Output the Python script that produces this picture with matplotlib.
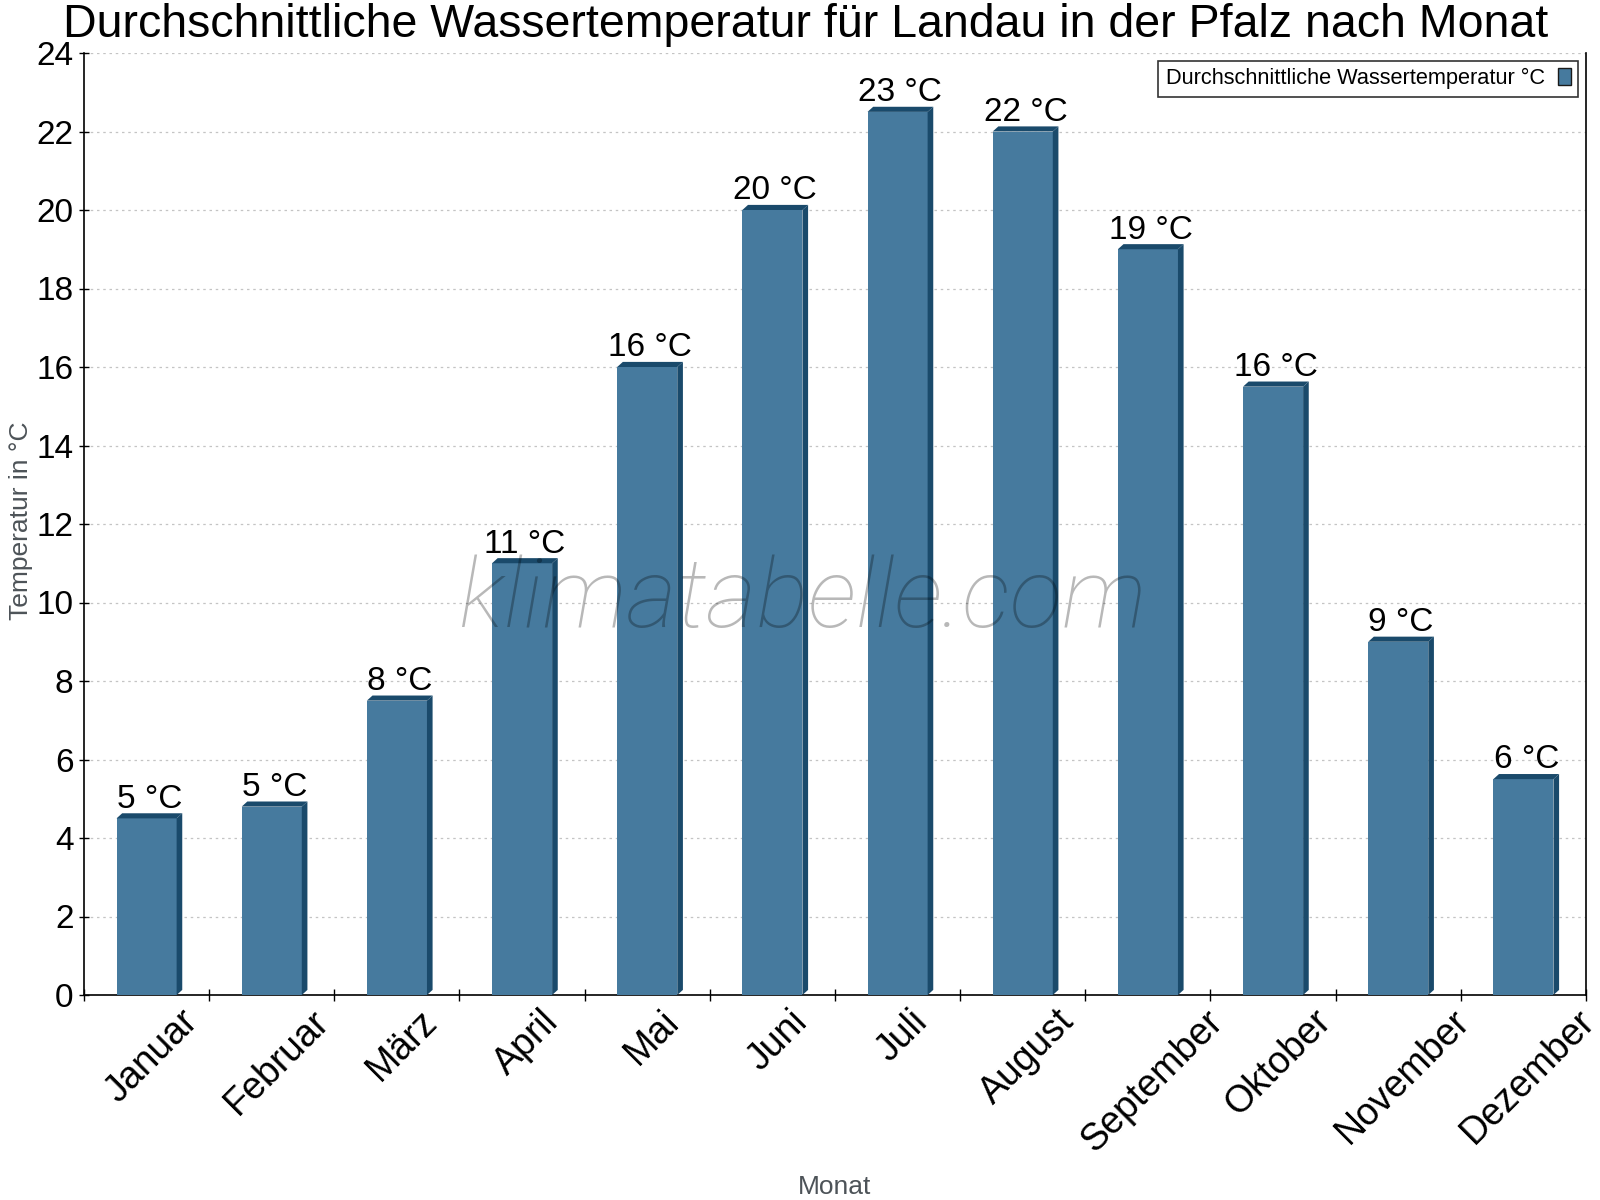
import matplotlib
matplotlib.use('Agg')
import matplotlib.pyplot as plt
import matplotlib.transforms as mtransforms
from matplotlib.patches import Patch
import numpy as np

plt.rcParams['font.family'] = ['Liberation Sans', 'DejaVu Sans']

months = ['Januar', 'Februar', 'März', 'April', 'Mai', 'Juni', 'Juli',
          'August', 'September', 'Oktober', 'November', 'Dezember']
water_temp = [4.5, 4.8, 7.5, 11.0, 16.0, 20.0, 22.5, 22.0, 19.0, 15.5, 9.0, 5.5]
bar_labels = ['5 °C', '5 °C', '8 °C', '11 °C', '16 °C', '20 °C', '23 °C',
              '22 °C', '19 °C', '16 °C', '9 °C', '6 °C']
y_ticks = list(range(0, 25, 2))

front_color = '#467a9e'
side_color = '#1a4a6b'
gray_text = '#4d5358'

fig = plt.figure(figsize=(16, 12), dpi=100)
ax = fig.add_axes([84 / 1600, 205 / 1200, 1502 / 1600, 942 / 1200])

x = np.arange(len(months))
width = 0.48
dx = 0.045   # depth of the fake 3d side (data units)
dy = 0.13

ax.bar(x, water_temp, width=width, color=front_color, zorder=3, linewidth=0)
for xi, v in zip(x, water_temp):
    l, r = xi - width / 2, xi + width / 2
    # right side face
    ax.fill([r, r + dx, r + dx, r], [0, dy, v + dy, v], color=side_color, zorder=3, linewidth=0)
    # top face
    ax.fill([l, l + dx, r + dx, r], [v, v + dy, v + dy, v], color=side_color, zorder=3, linewidth=0)

for xi, v, lab in zip(x, water_temp, bar_labels):
    ax.annotate(lab, (xi + dx / 2, v + dy), xytext=(0, 4), textcoords='offset points',
                ha='center', va='baseline', fontsize=24, color='black', zorder=5)

ax.set_xlim(-0.5, len(months) - 0.5)
ax.set_ylim(0, 24)
ax.set_yticks(y_ticks)
ax.set_yticklabels([str(t) for t in y_ticks])
ax.tick_params(axis='y', direction='inout', length=7, width=1, labelsize=24, pad=4)

ax.set_xticks(x)
ax.set_xticklabels(months, rotation=45, ha='center', va='top', fontsize=27)
ax.set_xticks(np.arange(-0.5, len(months)), minor=True)
ax.tick_params(axis='x', which='major', length=0, pad=6)
ax.tick_params(axis='x', which='minor', direction='inout', length=8, width=1)
shift = mtransforms.ScaledTranslation(5 / 100, 0, fig.dpi_scale_trans)
for t in ax.get_xticklabels():
    t.set_transform(t.get_transform() + shift)

ax.yaxis.grid(True, linestyle=(0, (2, 3)), color='#c4c4c4', linewidth=0.9)
ax.set_axisbelow(True)
ax.spines['top'].set_visible(False)
for s in ['left', 'bottom', 'right']:
    ax.spines[s].set_linewidth(1.2)
    ax.spines[s].set_color('black')

fig.text(806 / 1600, 1 - 37 / 1200, 'Durchschnittliche Wassertemperatur für Landau in der Pfalz nach Monat',
         ha='center', va='baseline', fontsize=33.5, color='black')
fig.text(21 / 1600, 0.566, 'Temperatur in °C', rotation=90, ha='center', va='center',
         fontsize=19, color=gray_text)
fig.text(835 / 1600, 1 - 1194 / 1200, 'Monat', ha='center', va='baseline', fontsize=19, color=gray_text)

ax.text(0.502, 0.5, 'klimatabelle.com', transform=fig.transFigure, ha='center', va='center',
        fontsize=70, style='italic', fontweight='light', family=['Roboto', 'Lato'],
        color='black', alpha=0.28, zorder=10)

handle = Patch(facecolor=front_color, edgecolor='#1a1a1a', linewidth=1)
leg = ax.legend([handle], ['Durchschnittliche Wassertemperatur °C'], loc='upper right',
                markerfirst=False, fontsize=15.7, frameon=True, fancybox=False,
                handlelength=0.6, handleheight=0.8, borderaxespad=0.35,
                borderpad=0.35, handletextpad=0.6)
leg.get_frame().set_edgecolor('black')
leg.get_frame().set_linewidth(1.2)
leg.set_zorder(6)

fig.savefig('out.png', dpi=100)
